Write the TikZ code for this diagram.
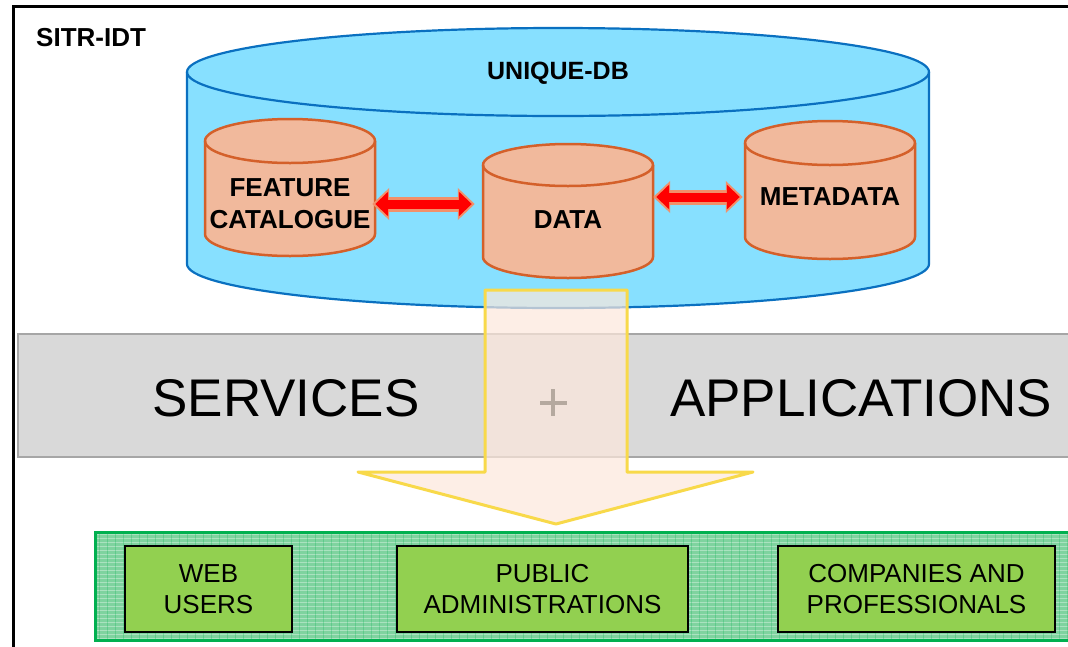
\documentclass[tikz,border=0pt]{standalone}
\usepackage{fontspec}
\setmainfont{Liberation Sans}
\usetikzlibrary{arrows.meta}
\definecolor{dbfill}{HTML}{87E0FF}
\definecolor{dbline}{HTML}{0A70C0}
\definecolor{cylfill}{HTML}{F1B99C}
\definecolor{cylline}{HTML}{D4602A}
\definecolor{bandfill}{HTML}{D9D9D9}
\definecolor{bandline}{HTML}{A6A6A6}
\definecolor{arrfill}{HTML}{FDE8DC}
\definecolor{arrline}{HTML}{F8D94A}
\definecolor{grnfill}{HTML}{7FD39F}
\definecolor{grnline}{HTML}{00B050}
\definecolor{boxfill}{HTML}{92D050}
\definecolor{dblout}{HTML}{F2906A}
\definecolor{plusc}{HTML}{B5A99F}
\newcommand\smallcyl[5]{%
  \filldraw[fill=cylfill, draw=cylline, line width=2.5pt]
    (#1,#3) -- (#1,#4) arc[start angle=180,end angle=360,x radius={(#2-#1)/2},y radius=#5]
    -- (#2,#3) arc[start angle=0,end angle=180,x radius={(#2-#1)/2},y radius=#5] -- cycle;
  \draw[draw=cylline, line width=2.5pt]
    (#1,#3) arc[start angle=180,end angle=360,x radius={(#2-#1)/2},y radius=#5];
}
\begin{document}
\begin{tikzpicture}[x=1pt,y=1pt,
  cyltext/.style={font=\fontsize{26}{32}\selectfont\bfseries, align=center, inner sep=0pt, minimum width=170pt},
  bigtext/.style={font=\fontsize{53}{60}\selectfont, inner sep=0pt},
  userbox/.style={draw=black, fill=boxfill, line width=2.5pt, align=center, font=\fontsize{26}{31}\selectfont, inner sep=0pt},
  dblo/.style={draw=dblout, line width=15pt, {Triangle[width=31pt,length=17pt]}-{Triangle[width=31pt,length=17pt]}},
  dbli/.style={draw=red, line width=9pt, {Triangle[width=24pt,length=13pt]}-{Triangle[width=24pt,length=13pt]}}
]
\useasboundingbox (0,0) rectangle (1068,-646);
\clip (0,0) rectangle (1068,-646);
\fill[white] (0,0) rectangle (1068,-646);
% outer frame
\draw[black, line width=3pt] (13,-6) rectangle (1090,-680);
\node[anchor=west, font=\fontsize{26}{30}\selectfont\bfseries, inner sep=0pt] (sitr) at (36,-38) {SITR-IDT};
% big cylinder
\filldraw[fill=dbfill, draw=dbline, line width=2.2pt]
  (187,-72) -- (187,-264) arc[start angle=180,end angle=360,x radius=371,y radius=44]
  -- (929,-72) arc[start angle=0,end angle=180,x radius=371,y radius=44] -- cycle;
\draw[dbline, line width=2.2pt] (187,-72) arc[start angle=180,end angle=360,x radius=371,y radius=44];
\node[font=\fontsize{25}{30}\selectfont\bfseries, inner sep=0pt] (udb) at (558,-73) {UNIQUE-DB};
% small cylinders
\smallcyl{205}{375}{-141}{-234}{22}
\smallcyl{483}{653}{-165}{-257}{21}
\smallcyl{745}{915}{-143}{-237}{22}
\node[cyltext] (fc) at (290,-204) {FEATURE\\CATALOGUE};
\node[cyltext] (data) at (568,-220) {DATA};
\node[cyltext] (md) at (830,-197) {METADATA};
% double arrows
\draw[dblo, shorten <=-3pt, shorten >=8pt] (fc.east) -- (data.west |- fc.east);
\draw[dbli, shorten <=0pt, shorten >=11pt] (fc.east) -- (data.west |- fc.east);
\draw[dblo, shorten <=0pt, shorten >=2pt] (data.east |- md.west) -- (md.west);
\draw[dbli, shorten <=3pt, shorten >=5pt] (data.east |- md.west) -- (md.west);
% services band
\filldraw[fill=bandfill, draw=bandline, line width=2.5pt] (18,-334) rectangle (1090,-457);
\node[bigtext] (serv) at (286,-398) {SERVICES};
\node[bigtext] (apps) at (861,-398) {APPLICATIONS};
% big down arrow
\filldraw[fill=arrfill, fill opacity=0.7, draw=arrline, line width=3pt, line join=round]
  (485,-290) -- (627,-290) -- (627,-472) -- (753,-472) -- (556,-524)
  -- (358,-472) -- (485,-472) -- cycle;
\draw[plusc, line width=4pt] (540,-403) -- (567,-403) (553,-389) -- (553,-416);
% user band
\filldraw[fill=grnfill, draw=grnline, line width=3pt] (95,-532) rectangle (1090,-640);
\begin{scope}
  \clip (97,-534) rectangle (1090,-638);
  \foreach \yy in {534,538,...,638} \draw[white, opacity=0.35, line width=1pt] (95,-\yy) -- (1090,-\yy);
  \foreach \xx in {99,107,...,1090} \draw[grnline, opacity=0.25, line width=0.8pt] (\xx,-532) -- (\xx,-640);
\end{scope}
\node[userbox, minimum width=167pt, minimum height=86pt] (web) at (208.5,-589) {WEB\\USERS};
\node[userbox, minimum width=291pt, minimum height=86pt] (pub) at (542.5,-589) {PUBLIC\\ADMINISTRATIONS};
\node[userbox, minimum width=277pt, minimum height=86pt] (comp) at (916.5,-589) {COMPANIES AND\\PROFESSIONALS};
\end{tikzpicture}
\end{document}
